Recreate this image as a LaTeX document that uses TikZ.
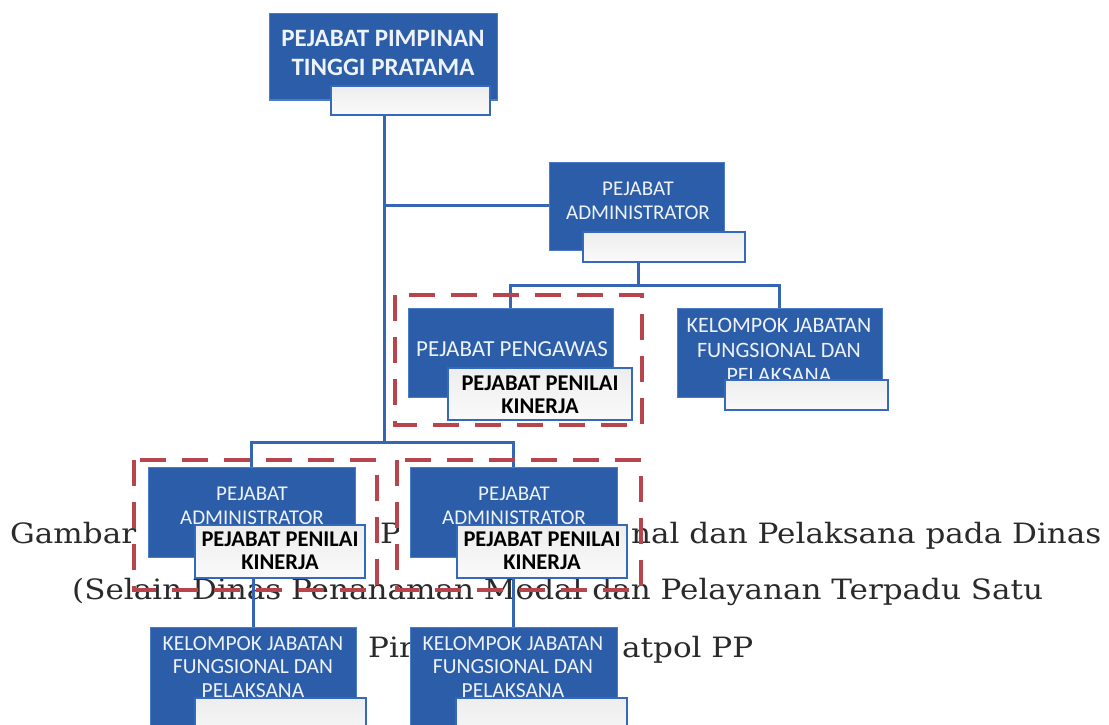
\documentclass[tikz,border=0pt]{standalone}
\usepackage{fontspec}
\usepackage{graphicx}
\setmainfont{Carlito}
\newfontfamily\capfont{DejaVu Serif}
\definecolor{boxblue}{HTML}{2C5DA8}
\definecolor{boxedge}{HTML}{4A7CC8}
\definecolor{subedge}{HTML}{3569BE}
\definecolor{connblue}{HTML}{3566B4}
\definecolor{dashred}{HTML}{B8454C}
\definecolor{boxtext}{HTML}{EEF2FA}
\definecolor{capgray}{HTML}{2A2A2A}
\newlength\capw
\AtBeginDocument{\settowidth\capw{\capfont\fontsize{28}{31}\selectfont (Selain Dinas Penanaman Modal dan Pelayanan Terpadu Satu}}
\tikzset{
  bluebox/.style={draw=boxedge, line width=1pt, fill=boxblue, inner sep=0pt},
  subbox/.style={draw=subedge, line width=2.5pt, top color=gray!14, bottom color=gray!4, inner sep=0pt},
  bluetext/.style={text=boxtext, align=center, inner sep=0pt},
  subtext/.style={text=black, align=center, inner sep=0pt, font=\fontsize{22.5}{23}\selectfont\bfseries},
  conn/.style={draw=connblue, line width=3pt},
  grp/.style={draw=dashred, line width=4.5pt, dash pattern=on 26pt off 16pt},
  captext/.style={anchor=base west, inner sep=0pt, text=capgray, font=\capfont\fontsize{28}{31}\selectfont}
}
\newcommand{\boxat}[5]{% name, x1, y1, x2, y2
  \node[bluebox, minimum width={#4-#2}, minimum height={#5-#3}] (#1) at ({(#2+#4)/2},{(#3+#5)/2}) {};}
\newcommand{\subat}[5]{%
  \node[subbox, minimum width={#4-#2}, minimum height={#5-#3}] (#1) at ({(#2+#4)/2},{(#3+#5)/2}) {};}
\begin{document}
\begin{tikzpicture}[x=1pt,y=-1pt]
\useasboundingbox (0,0) rectangle (1109,725);
\clip (0,0) rectangle (1109,725);
\fill[white] (0,0) rectangle (1109,725);
% caption text (background)
\pgfmathsetmacro\capsx{971/\capw}
\node[captext] (c1) at (10,543) {\scalebox{\capsx}[1]{Gambar}};
\begin{scope}
\clip (370,500) rectangle (398,560);
\node[captext] (c2) at (380,543) {\scalebox{\capsx}[1]{Pe}};
\end{scope}
\node[captext] (c3) at (631,543) {\scalebox{\capsx}[1]{nal dan Pelaksana pada Dinas}};
\node[captext] (c4) at (72,599) {\scalebox{\capsx}[1]{(Selain Dinas Penanaman Modal dan Pelayanan Terpadu Satu}};
\node[captext] (c5) at (368,657) {\scalebox{\capsx}[1]{Pir}};
\node[captext] (c6) at (622,657) {\scalebox{\capsx}[1]{atpol PP}};
% boxes
\boxat{T}{269}{14}{497}{100}
\boxat{A}{549}{162}{724}{250}
\boxat{P}{408}{308}{613}{397}
\boxat{K}{677}{308}{882}{397}
\boxat{L}{148}{467}{355}{557}
\boxat{R}{410}{467}{617}{557}
\boxat{BL}{150}{627}{356}{745}
\boxat{BR}{410}{627}{617}{745}
% connectors
\coordinate (t2) at (384,205);
\coordinate (t1) at (384,442);
\coordinate (s1) at (638,285);
\draw[conn] (t1) -- (t1 |- T.south);
\draw[conn] (t2) -- (t2 -| A.west);
\draw[conn] (P.north) |- (s1) -| (K.north);
\draw[conn] (s1) -- (s1 |- A.south);
\draw[conn] (L.north) |- (t1) -| (R.north);
\draw[conn] (BL.north) -- ++(0,-50);
\draw[conn] (BR.north) -- ++(0,-50);
% group frames
\draw[grp] (395,295) rectangle (642,425);
\draw[grp] (134,460) rectangle (377,590);
\draw[grp] (397,460) rectangle (641,590);
% box texts
\node[bluetext, font=\fontsize{25}{29}\selectfont\bfseries] (Tt) at (383,53) {PEJABAT PIMPINAN\\TINGGI PRATAMA};
\node[bluetext, font=\fontsize{21}{24}\selectfont] (At) at (638,201) {PEJABAT\\ADMINISTRATOR};
\node[bluetext, font=\fontsize{23}{25}\selectfont] (Pt) at (512,349) {PEJABAT PENGAWAS};
\node[bluetext, font=\fontsize{22}{25}\selectfont] (Kt) at (779,350) {KELOMPOK JABATAN\\FUNGSIONAL DAN\\PELAKSANA};
\node[bluetext, font=\fontsize{21}{24}\selectfont] (Lt) at (252,506) {PEJABAT\\ADMINISTRATOR};
\node[bluetext, font=\fontsize{21}{24}\selectfont] (Rt) at (514,506) {PEJABAT\\ADMINISTRATOR};
\node[bluetext, font=\fontsize{21.5}{23.5}\selectfont] (BLt) at (253,667) {KELOMPOK JABATAN\\FUNGSIONAL DAN\\PELAKSANA};
\node[bluetext, font=\fontsize{21.5}{23.5}\selectfont] (BRt) at (513,667) {KELOMPOK JABATAN\\FUNGSIONAL DAN\\PELAKSANA};
% sub boxes
\subat{Ts}{331}{86}{490}{115}
\subat{As}{583}{232}{745}{262}
\subat{Ps}{448}{368}{632}{420}
\subat{Ks}{725}{380}{888}{410}
\subat{Ls}{195}{525}{365}{578}
\subat{Rs}{457}{525}{627}{578}
\subat{BLs}{195}{698}{366}{745}
\subat{BRs}{456}{698}{627}{745}
\node[subtext] (Pst) at (540,395) {PEJABAT PENILAI\\KINERJA};
\node[subtext] (Lst) at (280,551) {PEJABAT PENILAI\\KINERJA};
\node[subtext] (Rst) at (542,551) {PEJABAT PENILAI\\KINERJA};
\end{tikzpicture}
\end{document}
